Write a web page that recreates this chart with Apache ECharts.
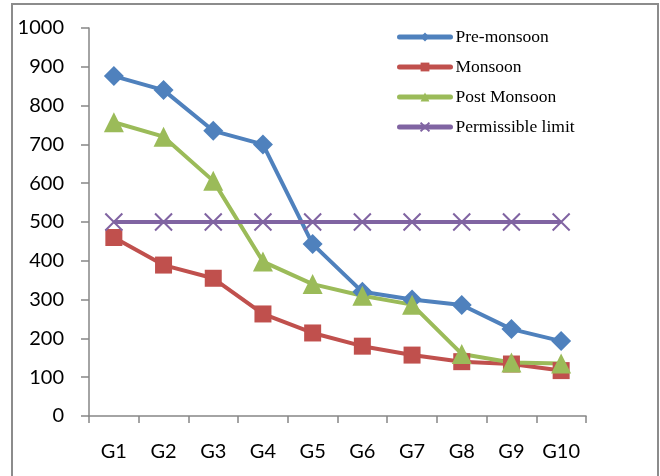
<!DOCTYPE html>
<html><head><meta charset="utf-8">
<script src="https://cdn.jsdelivr.net/npm/echarts@6/dist/echarts.min.js"></script>
<style>html,body{margin:0;padding:0;background:#fff}#c{width:660px;height:476px}</style>
</head><body><div id="c"></div>
<script>
var categories = ['G1','G2','G3','G4','G5','G6','G7','G8','G9','G10'];
var preMonsoon = [876, 840, 735, 700, 443, 320, 300, 286, 224, 193];
var monsoon = [460, 389, 355, 263, 214, 180, 157, 140, 134, 117];
var postMonsoon = [757, 720, 606, 398, 340, 310, 287, 160, 138, 135];
var permissible = [500, 500, 500, 500, 500, 500, 500, 500, 500, 500];
var yTicks = {min: 0, max: 1000, interval: 100};

var chart = echarts.init(document.getElementById('c'), null, {renderer: 'canvas'});
var xPath = 'path://M0,0L10,10M10,0L0,10';
function mk(name, data, color, symbol, size) {
  return {
    name: name, type: 'line', data: data, symbol: symbol, symbolSize: size,
    lineStyle: {color: color, width: 4},
    itemStyle: {color: color, borderColor: color, borderWidth: symbol === xPath ? 2 : 0},
    emphasis: {disabled: true}, animation: false
  };
}
chart.setOption({
  animation: false,
  graphic: [{type: 'rect', shape: {x: 12, y: 4, width: 646, height: 480}, style: {fill: 'none', stroke: '#8c8c8c', lineWidth: 2}, z: -1}],
  grid: {left: 89, right: 74, top: 28, bottom: 60},
  legend: {
    orient: 'vertical', left: 397, top: 28, padding: 0, itemWidth: 51, itemHeight: 11, itemGap: 12,
    lineStyle: {width: 5, cap: 'round'},
    textStyle: {fontFamily: 'Liberation Serif', fontSize: 17.5, color: '#000'},
    data: ['Pre-monsoon', 'Monsoon', 'Post Monsoon', 'Permissible limit']
  },
  xAxis: {
    type: 'category', data: categories, boundaryGap: true,
    axisLine: {lineStyle: {color: '#868686', width: 1.5}},
    axisTick: {show: true, length: 7, inside: false, lineStyle: {color: '#868686', width: 1.5}},
    axisLabel: {fontFamily: 'Lato', fontSize: 20, color: '#000', margin: 26}
  },
  yAxis: {
    type: 'value', min: yTicks.min, max: yTicks.max, interval: yTicks.interval,
    splitLine: {show: false},
    axisLine: {show: true, lineStyle: {color: '#868686', width: 1.5}},
    axisTick: {show: true, length: 8, lineStyle: {color: '#868686', width: 1.5}},
    axisLabel: {fontFamily: 'Lato', fontSize: 20, color: '#000', margin: 25, formatter: function (v) { return String(v); }}
  },
  series: [
    mk('Pre-monsoon', preMonsoon, '#4F81BD', 'diamond', 20),
    mk('Monsoon', monsoon, '#C0504D', 'rect', 17),
    mk('Post Monsoon', postMonsoon, '#9BBB59', 'triangle', 20),
    mk('Permissible limit', permissible, '#8064A2', xPath, 17)
  ]
});
</script></body></html>
